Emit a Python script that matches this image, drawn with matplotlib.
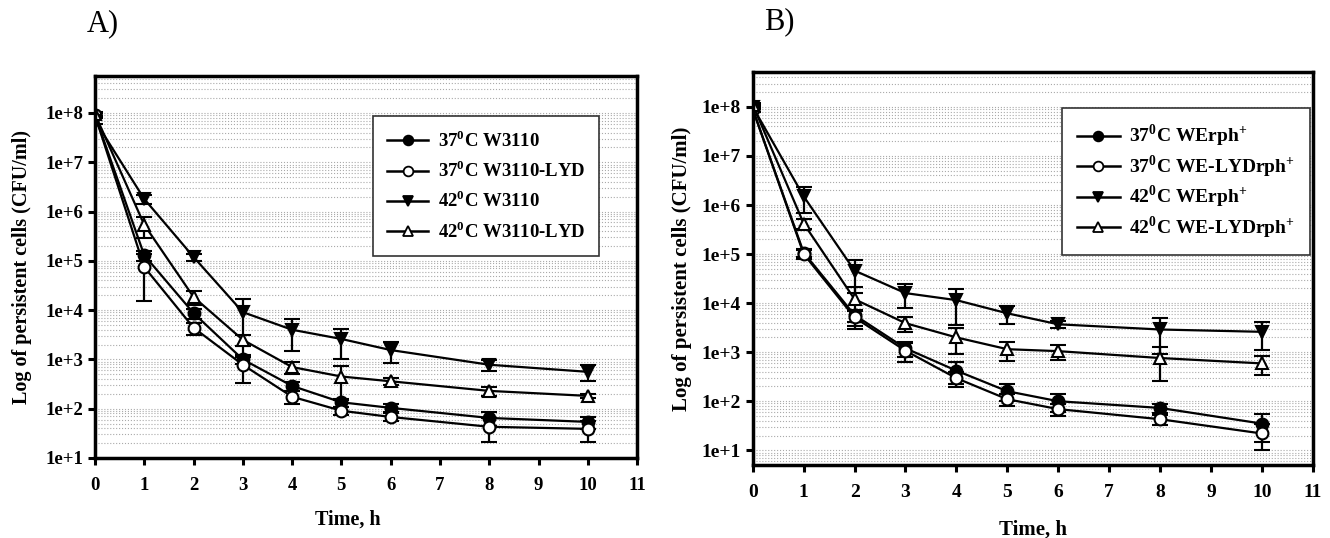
import numpy as np
import matplotlib.pyplot as plt
from matplotlib.lines import Line2D
from matplotlib.ticker import LogLocator, FixedLocator, NullFormatter

plt.rcParams['font.family'] = ['Liberation Serif', 'DejaVu Serif']
plt.rcParams['font.weight'] = 'bold'
plt.rcParams['mathtext.fontset'] = 'custom'
plt.rcParams['mathtext.rm'] = 'Liberation Serif:bold'
plt.rcParams['mathtext.bf'] = 'Liberation Serif:bold'

# time points (h)
time_h = [0, 1, 2, 3, 4, 5, 6, 8, 10]

# panel A
a_labels = ['37$^{0}$C W3110', '37$^{0}$C W3110-LYD', '42$^{0}$C W3110', '42$^{0}$C W3110-LYD']
a_37_wt = [9e7, 1.3e5, 8.7e3, 1.0e3, 290, 135, 104, 65, 54]
a_37_wt_err = [1e7, 3e4, 2e3, 200, 60, 25, 20, 20, 15]
a_37_lyd = [9e7, 7.5e4, 4.4e3, 780, 175, 91, 68, 43, 39]
a_37_lyd_err = [1e7, 6e4, 1.2e3, 450, 50, 15, 12, 22, 18]
a_42_wt = [7e7, 1.8e6, 1.2e5, 9.1e3, 4.0e3, 2.6e3, 1.55e3, 780, 560]
a_42_wt_err = [1e7, 4e5, 2e4, 8e3, 2.5e3, 1.6e3, 700, 200, 200]
a_42_lyd = [9.5e7, 5.4e5, 1.85e4, 2.5e3, 700, 450, 360, 230, 182]
a_42_lyd_err = [1e7, 2.5e5, 6e3, 600, 200, 300, 60, 45, 20]

# panel B
b_labels = ['37$^{0}$C WErph$^{+}$', '37$^{0}$C WE-LYDrph$^{+}$', '42$^{0}$C WErph$^{+}$', '42$^{0}$C WE-LYDrph$^{+}$']
b_37_wt = [9e7, 1.07e5, 5.7e3, 1.2e3, 420, 160, 100, 73, 35]
b_37_wt_err = [1e7, 2e4, 1.5e3, 400, 200, 60, 40, 15, 20]
b_37_lyd = [9e7, 1.0e5, 5.1e3, 1.07e3, 295, 110, 69, 43, 22]
b_37_lyd_err = [1e7, 2e4, 1.7e3, 450, 100, 30, 20, 10, 12]
b_42_wt = [1e8, 1.5e6, 4.6e4, 1.6e4, 1.15e4, 6.2e3, 3.7e3, 2.9e3, 2.6e3]
b_42_wt_err = [1e7, 8e5, 3e4, 8e3, 8e3, 2.5e3, 600, 2e3, 1.5e3]
b_42_lyd = [1.1e8, 4.2e5, 1.2e4, 3.9e3, 2.0e3, 1.15e3, 1.05e3, 760, 590]
b_42_lyd_err = [1e7, 1e5, 9e3, 1.3e3, 1.1e3, 500, 350, 500, 250]

ytick_vals = [1e1, 1e2, 1e3, 1e4, 1e5, 1e6, 1e7, 1e8]
ytick_text = ['1e+1', '1e+2', '1e+3', '1e+4', '1e+5', '1e+6', '1e+7', '1e+8']

styles = [dict(marker='o', mfc='black'),
          dict(marker='o', mfc='white'),
          dict(marker='v', mfc='black'),
          dict(marker='^', mfc='white')]


def draw_panel(ax, series, errs, labels, ylim, leg_box, lab_sp, xlab_pos, ylab_pos, fs):
    handles = []
    for vals, err, lab, st in zip(series, errs, labels, styles):
        ax.errorbar(time_h, vals, yerr=err, color='black', lw=1.6, ms=8.5,
                    mec='black', mew=1.5, capsize=5.5, capthick=1.6,
                    elinewidth=1.6, **st)
        handles.append(Line2D([], [], color='black', lw=1.8, ms=7,
                              mec='black', mew=1.3, label=lab, **st))
    ax.set_yscale('log')
    ax.set_xlim(0, 11)
    ax.set_ylim(*ylim)
    ax.set_xticks(range(12))
    ax.yaxis.set_major_locator(FixedLocator(ytick_vals))
    ax.set_yticklabels(ytick_text)
    ax.yaxis.set_minor_locator(LogLocator(base=10, subs=np.arange(2, 10)))
    ax.yaxis.set_minor_formatter(NullFormatter())
    ax.tick_params(axis='both', which='major', labelsize=fs, width=2.2, length=5)
    ax.tick_params(axis='x', which='major', pad=9)
    ax.tick_params(axis='y', which='minor', length=0)
    for lab in ax.get_xticklabels() + ax.get_yticklabels():
        lab.set_fontweight('bold')
    ax.grid(True, which='both', axis='y', color='#aaaaaa', ls=':', lw=0.8)
    ax.set_axisbelow(True)
    for sp in ax.spines.values():
        sp.set_linewidth(2.5)
    ax.set_xlabel('Time, h', fontsize=fs + 1, fontweight='bold')
    ax.set_ylabel('Log of persistent cells (CFU/ml)', fontsize=fs + 1, fontweight='bold')
    ax.xaxis.set_label_coords(*xlab_pos)
    ax.yaxis.set_label_coords(*ylab_pos)
    leg = ax.legend(handles=handles, loc='upper right', bbox_to_anchor=leg_box,
                    borderaxespad=0, fontsize=fs, fancybox=False,
                    edgecolor='#333333', framealpha=1, handlelength=2.2,
                    handletextpad=0.5, labelspacing=lab_sp, borderpad=0.75)
    leg.get_frame().set_linewidth(1.2)


fig = plt.figure(figsize=(13.3, 5.38), dpi=100)
ax_a = fig.add_axes([0.0714, 0.1487, 0.4076, 0.71])
ax_b = fig.add_axes([0.566, 0.1357, 0.421, 0.7303])

draw_panel(ax_a, [a_37_wt, a_37_lyd, a_42_wt, a_42_lyd],
           [a_37_wt_err, a_37_lyd_err, a_42_wt_err, a_42_lyd_err],
           a_labels, (10, 10 ** 8.75), (0.930, 0.895), 0.5,
           (0.467, -0.135), (-0.116, 0.5), 13.5)
draw_panel(ax_b, [b_37_wt, b_37_lyd, b_42_wt, b_42_lyd],
           [b_37_wt_err, b_37_lyd_err, b_42_wt_err, b_42_lyd_err],
           b_labels, (10 ** 0.7, 10 ** 8.71), (0.995, 0.908), 0.2,
           (0.5, -0.14), (-0.109, 0.5), 14)

fig.text(0.077, 0.955, 'A)', fontsize=22, fontweight='normal', va='center', ha='center')
fig.text(0.586, 0.96, 'B)', fontsize=22, fontweight='normal', va='center', ha='center')

fig.savefig('out.png', dpi=100)
